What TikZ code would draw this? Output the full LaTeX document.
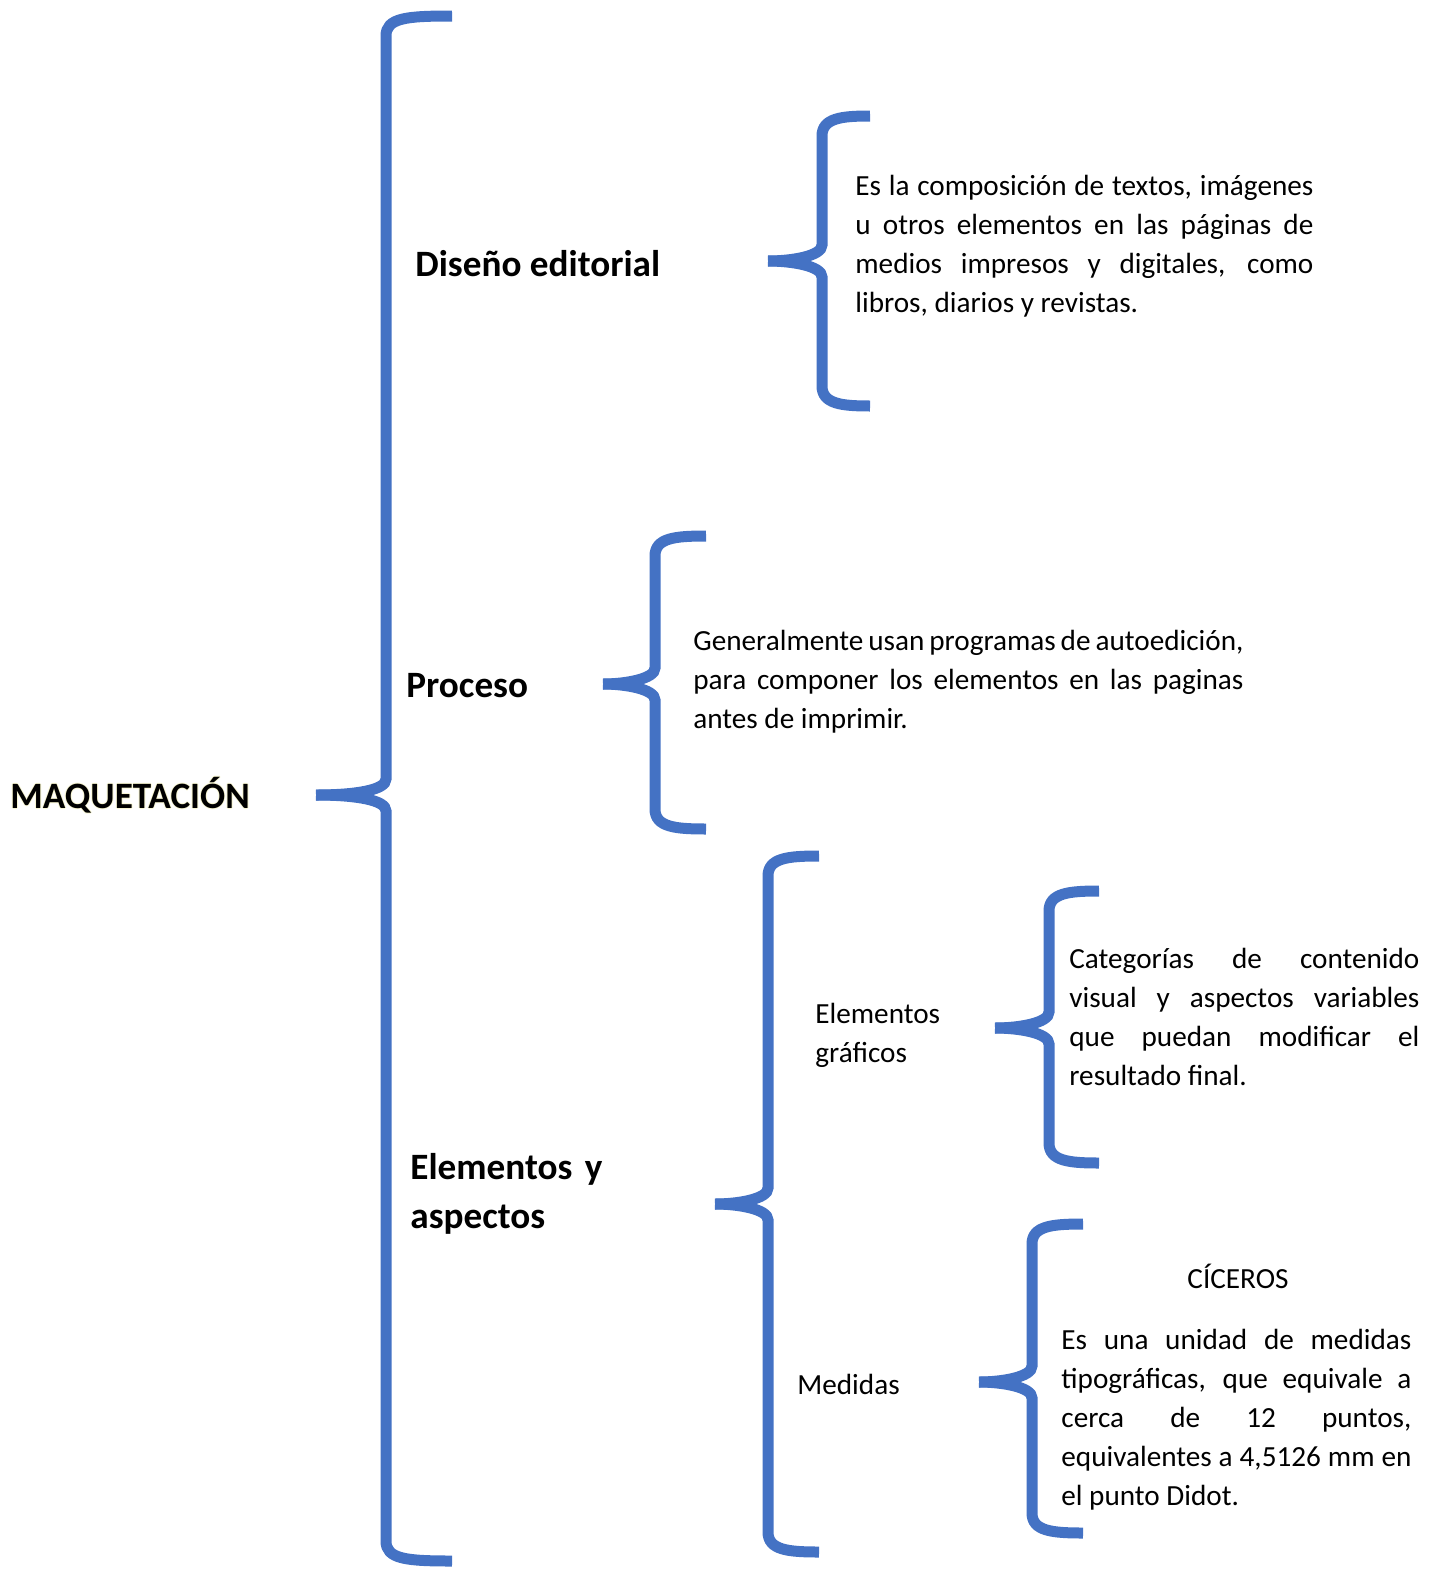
\documentclass[tikz,border=0pt]{standalone}
\usepackage{fontspec}
\setmainfont{Carlito}
\usepackage{tikz}
\usetikzlibrary{positioning}
\usepackage{xcolor}
\definecolor{azul}{HTML}{4472C4}
\definecolor{brillo}{HTML}{F8F6D2}

\tikzset{
  llave/.style={line width=5.5pt,azul},
  titulo/.style={inner sep=0pt,anchor=base west,font=\fontsize{18.6}{24.5}\selectfont\bfseries},
  cuerpo/.style={inner sep=0pt,anchor=base west,font=\fontsize{14.6}{19.5}\selectfont,align=justify}
}

\begin{document}
\begin{tikzpicture}[x=0.5pt,y=-0.5pt]
    \useasboundingbox (0,0) rectangle (1445,1574);
    \foreach \x/\t/\m/\b/\r/\l in {386/16/795/1561/452/316,822/116/261/406/870/768,655/536/684/829/706/603,768/856/1204/1552/819/715,1049/891/1028/1163/1099/995,1032/1224/1382/1533/1083/979}{
      \draw[llave] (\r,\t) .. controls (\x+20,\t) and (\x,\t+2) .. (\x,\t+20) -- (\x,\m-16) .. controls (\x,\m-5) and (\x-30,\m) .. (\l,\m);
      \draw[llave] (\l,\m) .. controls (\x-30,\m) and (\x,\m+5) .. (\x,\m+16) -- (\x,\b-20) .. controls (\x,\b-2) and (\x+20,\b) .. (\r,\b);
    }
    \foreach \dx/\dy [count=\i] in {-1/0,1/0,0/-1,0/1}{
      \node[titulo,text=brillo] (brillo\i) at (10+\dx,808+\dy) {MAQUETACIÓN};
    }
    \node[titulo] (maq) at (10,808) {MAQUETACIÓN};
    \node[titulo] (diseno) at (415,276) {Diseño editorial};
    \node[titulo] (proceso) at (406,697) {Proceso};
    \node[titulo,text width=120pt,align=left] (elem) at (410,1179) {Elementos y\\aspectos};
    \node[cuerpo] (graf) at (815,1023) [text width=80pt,align=left] {Elementos\\gráficos};
    \node[cuerpo] (medidas) at (797,1394) {Medidas};
    \node[cuerpo,text width=229pt] (defdiseno) at (855,195) {Es la composición de textos, imágenes\linebreak u otros elementos en las páginas de\linebreak medios impresos y digitales, como\linebreak libros, diarios y revistas.};
    \node[cuerpo,text width=275pt] (defproceso) at (693,650) {Generalmente usan programas de autoedición,\linebreak para componer los elementos en las paginas\linebreak antes de imprimir.};
    \node[cuerpo,text width=175pt] (defgraf) at (1069,968) {Categorías de contenido\linebreak visual y aspectos variables\linebreak que puedan modificar el\linebreak resultado final.};
    \node[cuerpo,anchor=base] (ciceros) at (1238,1288) {CÍCEROS};
    \node[cuerpo,text width=175pt] (defmedidas) at (1061,1349) {Es una unidad de medidas\linebreak tipográficas, que equivale a\linebreak cerca de 12 puntos,\linebreak equivalentes a 4,5126 mm en\linebreak el punto Didot.};
  \end{tikzpicture}
\end{document}
